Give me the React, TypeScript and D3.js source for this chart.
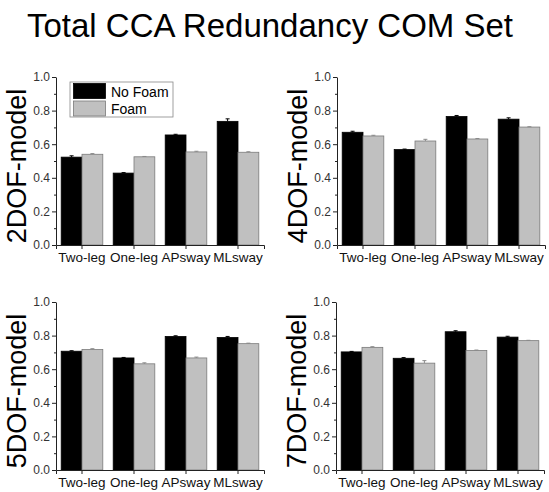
import { useEffect, useRef } from 'react'
import * as d3 from 'd3'

const categories = ['Two-leg', 'One-leg', 'APsway', 'MLsway']
const models = ['2DOF-model', '4DOF-model', '5DOF-model', '7DOF-model']
const seriesNames = ['No Foam', 'Foam']
const yTicks = [0, 0.2, 0.4, 0.6, 0.8, 1.0]
const yMinorTicks = [0.1, 0.3, 0.5, 0.7, 0.9]

// mean values
const noFoam2 = [0.523, 0.428, 0.655, 0.736]
const foam2 = [0.540, 0.525, 0.554, 0.552]
const noFoam4 = [0.671, 0.568, 0.765, 0.749]
const foam4 = [0.649, 0.619, 0.631, 0.702]
const noFoam5 = [0.707, 0.667, 0.795, 0.789]
const foam5 = [0.717, 0.632, 0.667, 0.752]
const noFoam7 = [0.703, 0.665, 0.823, 0.791]
const foam7 = [0.730, 0.636, 0.711, 0.770]

// error bar half-lengths
const noFoamErr2 = [0.008, 0.003, 0.004, 0.015]
const foamErr2 = [0.004, 0.002, 0.004, 0.003]
const noFoamErr4 = [0.006, 0.003, 0.006, 0.008]
const foamErr4 = [0.004, 0.010, 0.003, 0.002]
const noFoamErr5 = [0.003, 0.003, 0.004, 0.006]
const foamErr5 = [0.005, 0.006, 0.005, 0.003]
const noFoamErr7 = [0.003, 0.004, 0.006, 0.005]
const foamErr7 = [0.004, 0.015, 0.003, 0.002]

const FONT = "'Liberation Sans', Arial, Helvetica, sans-serif"
const BLACK = '#000000'
const GREY = '#c0c0c0'

interface Panel {
  label: string
  noFoam: number[]
  foam: number[]
  noFoamErr: number[]
  foamErr: number[]
  x0: number
  y0: number
  legend: boolean
}

const panels: Panel[] = [
  { label: models[0], noFoam: noFoam2, foam: foam2, noFoamErr: noFoamErr2, foamErr: foamErr2, x0: 56, y0: 77, legend: true },
  { label: models[1], noFoam: noFoam4, foam: foam4, noFoamErr: noFoamErr4, foamErr: foamErr4, x0: 337, y0: 77, legend: false },
  { label: models[2], noFoam: noFoam5, foam: foam5, noFoamErr: noFoamErr5, foamErr: foamErr5, x0: 56, y0: 302, legend: false },
  { label: models[3], noFoam: noFoam7, foam: foam7, noFoamErr: noFoamErr7, foamErr: foamErr7, x0: 336, y0: 302, legend: false },
]

export default function App() {
  const svgRef = useRef<SVGSVGElement>(null)

  useEffect(() => {
    if (!svgRef.current) return
    const W = 549
    const H = 492
    const iw = 208
    const ih = 168

    d3.select(svgRef.current).selectAll('*').remove()
    const svg = d3.select(svgRef.current)
      .attr('width', W)
      .attr('height', H)
      .attr('viewBox', `0 0 ${W} ${H}`)
      .style('font-family', FONT)

    svg.append('rect').attr('width', W).attr('height', H).attr('fill', '#fff')

    svg.append('text')
      .attr('x', 270)
      .attr('y', 37)
      .attr('text-anchor', 'middle')
      .attr('font-size', 33)
      .attr('fill', '#000')
      .text('Total CCA Redundancy COM Set')

    const xScale = d3.scaleBand<string>()
      .domain(categories)
      .range([0, iw])
      .paddingInner(0.2)
      .paddingOuter(0.1)

    const yScale = d3.scaleLinear().domain([0, 1]).range([ih, 0])

    panels.forEach(p => {
      const g = svg.append('g').attr('transform', `translate(${p.x0},${p.y0})`)
      const bw = xScale.bandwidth() / 2

      // bars
      const series = [
        { vals: p.noFoam, errs: p.noFoamErr, fill: BLACK, stroke: '#000', err: '#000', off: 0 },
        { vals: p.foam, errs: p.foamErr, fill: GREY, stroke: '#7a7a7a', err: '#8a8a8a', off: bw },
      ]
      series.forEach(s => {
        g.selectAll(null)
          .data(categories)
          .enter()
          .append('rect')
          .attr('x', (c) => xScale(c)! + s.off)
          .attr('y', (_, i) => yScale(s.vals[i]))
          .attr('width', bw)
          .attr('height', (_, i) => ih - yScale(s.vals[i]))
          .attr('fill', s.fill)
          .attr('stroke', s.stroke)
          .attr('stroke-width', 0.8)

        // error bars (upper half)
        categories.forEach((c, i) => {
          const cx = xScale(c)! + s.off + bw / 2
          const yt = yScale(s.vals[i] + s.errs[i])
          const yb = yScale(s.vals[i])
          g.append('line').attr('x1', cx).attr('x2', cx).attr('y1', yt).attr('y2', yb)
            .attr('stroke', s.err).attr('stroke-width', 1)
          g.append('line').attr('x1', cx - 2).attr('x2', cx + 2).attr('y1', yt).attr('y2', yt)
            .attr('stroke', s.err).attr('stroke-width', 1)
        })
      })

      // x axis
      g.append('g')
        .attr('transform', `translate(0,${ih})`)
        .call(d3.axisBottom(xScale).tickSize(4).tickPadding(3))
        .call(a => a.select('.domain').attr('stroke', '#222').attr('stroke-width', 1))
        .call(a => a.selectAll('.tick line').attr('stroke', '#222'))
        .call(a => a.selectAll('.tick text')
          .attr('font-size', 13.5)
          .attr('font-family', FONT)
          .attr('fill', '#111'))

      // y axis minor ticks
      g.append('g')
        .call(d3.axisLeft(yScale).tickValues(yMinorTicks).tickSize(2).tickFormat(() => ''))
        .call(a => a.select('.domain').remove())
        .call(a => a.selectAll('.tick line').attr('stroke', '#222'))

      // y axis
      g.append('g')
        .call(d3.axisLeft(yScale).tickValues(yTicks).tickSize(4).tickSizeOuter(0).tickPadding(2).tickFormat(d3.format('.1f')))
        .call(a => a.select('.domain').attr('stroke', '#222').attr('stroke-width', 1))
        .call(a => a.selectAll('.tick line').attr('stroke', '#222'))
        .call(a => a.selectAll('.tick text')
          .attr('font-size', 12)
          .attr('font-family', FONT)
          .attr('fill', '#333'))

      // y label
      g.append('text')
        .attr('transform', `translate(-30,${ih / 2 + 5}) rotate(-90)`)
        .attr('text-anchor', 'middle')
        .attr('font-size', 27)
        .attr('fill', '#000')
        .text(p.label)

      if (p.legend) {
        const lg = g.append('g').attr('transform', 'translate(14,5)')
        lg.append('rect').attr('x', 0).attr('y', 0).attr('width', 103).attr('height', 35)
          .attr('fill', '#fff').attr('stroke', '#888').attr('stroke-width', 0.8)
        const fills = [BLACK, GREY]
        seriesNames.forEach((name, i) => {
          lg.append('rect')
            .attr('x', 3.5).attr('y', 1.5 + i * 17.5)
            .attr('width', 32).attr('height', 15)
            .attr('fill', fills[i])
            .attr('stroke', i === 0 ? '#000' : '#7a7a7a')
            .attr('stroke-width', 0.8)
          lg.append('text')
            .attr('x', 41).attr('y', 14.5 + i * 17.5)
            .attr('font-size', 14)
            .attr('fill', '#000')
            .text(name)
        })
      }
    })
  }, [])

  return (
    <div style={{ position: 'absolute', left: 0, top: 0 }}>
      <svg ref={svgRef} style={{ display: 'block' }} />
    </div>
  )
}
